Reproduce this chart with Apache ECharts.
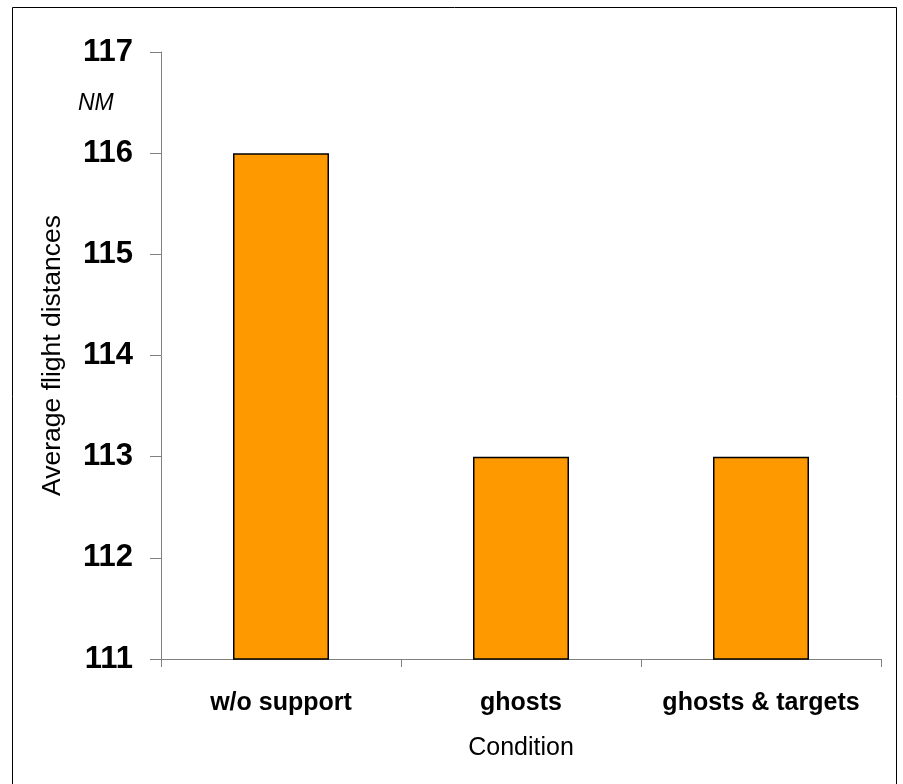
<!DOCTYPE html>
<html>
<head>
<meta charset="utf-8">
<script src="https://cdn.jsdelivr.net/npm/echarts@6/dist/echarts.min.js"></script>
<style>
  html, body { margin: 0; padding: 0; background: #ffffff; }
  #chart { width: 903px; height: 784px; }
</style>
</head>
<body>
<div id="chart"></div>
<script>
// Average flight distance per support condition (nautical miles)
const categories = ['w/o support', 'ghosts', 'ghosts & targets'];
const distances = [116, 113, 113];
const yTicks = { min: 111, max: 117, step: 1 };

const FONT = '"Liberation Sans", Arial, Helvetica, sans-serif';
const AXIS_GRAY = '#808080';

const chart = echarts.init(document.getElementById('chart'), null, { renderer: 'canvas' });

chart.setOption({
  animation: false,
  backgroundColor: '#ffffff',
  grid: { left: 161, top: 52, right: 22, bottom: 125, containLabel: false },
  xAxis: {
    type: 'category',
    data: categories,
    boundaryGap: true,
    name: 'Condition',
    nameLocation: 'middle',
    nameGap: 77,
    nameTextStyle: { fontFamily: FONT, fontSize: 25, color: '#000000' },
    axisLine: { show: true, lineStyle: { color: AXIS_GRAY, width: 1 } },
    axisTick: { show: true, inside: false, length: 8, alignWithLabel: false, lineStyle: { color: AXIS_GRAY, width: 1 } },
    axisLabel: { interval: 0, hideOverlap: false, margin: 32, fontFamily: FONT, fontSize: 25, fontWeight: 'bold', color: '#000000' },
    splitLine: { show: false }
  },
  yAxis: {
    type: 'value',
    min: yTicks.min,
    max: yTicks.max,
    interval: yTicks.step,
    name: 'Average flight distances',
    nameLocation: 'middle',
    nameRotate: 90,
    nameGap: 95,
    nameTextStyle: { fontFamily: FONT, fontSize: 26.5, color: '#000000' },
    axisLine: { show: true, lineStyle: { color: AXIS_GRAY, width: 1 } },
    axisTick: { show: true, inside: false, length: 11, lineStyle: { color: AXIS_GRAY, width: 1 } },
    axisLabel: { margin: 28, fontFamily: FONT, fontSize: 31, fontWeight: 'bold', color: '#000000' },
    splitLine: { show: false }
  },
  series: [{
    type: 'bar',
    data: distances,
    barWidth: '40%',
    itemStyle: { color: '#FF9900', borderColor: '#000000', borderWidth: 1.5 }
  }],
  graphic: [
    {
      type: 'rect',
      silent: true,
      shape: { x: 12.5, y: 7.5, width: 884, height: 800 },
      style: { fill: 'none', stroke: '#000000', lineWidth: 1 }
    },
    {
      type: 'text',
      silent: true,
      left: 78,
      top: 92,
      style: { text: 'NM', font: 'italic 23px ' + FONT, fill: '#000000' }
    }
  ]
});
</script>
</body>
</html>
